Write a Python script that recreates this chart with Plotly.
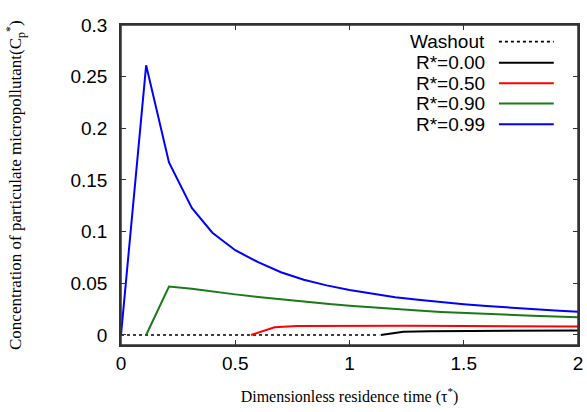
import plotly.graph_objects as go

# ---- data ----
tau_washout = [0.0, 1.13]
c_washout = [0.0, 0.0]

tau_r000 = [1.137, 1.236, 1.35, 1.5, 1.75, 2.0]
c_r000 = [0.0, 0.0032, 0.0037, 0.0040, 0.0042, 0.0043]

tau_r050 = [0.569, 0.672, 0.77, 0.9, 1.0, 1.25, 1.5, 1.75, 2.0]
c_r050 = [0.0, 0.0075, 0.0088, 0.0090, 0.0090, 0.0089, 0.0087, 0.0085, 0.0082]

tau_r090 = [0.11, 0.21, 0.31, 0.4, 0.5, 0.6, 0.7, 0.8, 0.9, 1.0,
            1.1, 1.2, 1.3, 1.4, 1.5, 1.6, 1.7, 1.8, 1.9, 2.0]
c_r090 = [0.0, 0.0468, 0.0448, 0.0420, 0.0393, 0.0367, 0.0344, 0.0322, 0.0302, 0.0284,
          0.0267, 0.0249, 0.0236, 0.0223, 0.0212, 0.0202, 0.0194, 0.0186, 0.0178, 0.0171]

tau_r099 = [0.0, 0.11, 0.21, 0.31, 0.40, 0.5, 0.6, 0.7, 0.8, 0.9, 1.0,
            1.1, 1.2, 1.3, 1.4, 1.5, 1.6, 1.7, 1.8, 1.9, 2.0]
c_r099 = [0.0, 0.261, 0.167, 0.123, 0.099, 0.082, 0.0705, 0.0607, 0.0535, 0.048, 0.0435,
          0.0398, 0.0366, 0.034, 0.0317, 0.0297, 0.028, 0.0264, 0.025, 0.0237, 0.0226]

legend_labels = ["Washout", "R*=0.00", "R*=0.50", "R*=0.90", "R*=0.99"]
x_ticks = [0, 0.5, 1, 1.5, 2]
x_tick_text = ["0", "0.5", "1", "1.5", "2"]
y_ticks = [0, 0.05, 0.1, 0.15, 0.2, 0.25, 0.3]
y_tick_text = ["0", "0.05", "0.1", "0.15", "0.2", "0.25", "0.3"]
y_title = "Concentration of particulate micropollutant(C<sub>p</sub><sup>*</sup>)"
x_title = "Dimensionless residence time (τ<sup>*</sup>)"

# ---- styles ----
colors = ["#000000", "#000000", "#ff0000", "#1a7a1a", "#0000ff"]
dashes = ["dot", "solid", "solid", "solid", "solid"]
series = [(tau_washout, c_washout), (tau_r000, c_r000), (tau_r050, c_r050),
          (tau_r090, c_r090), (tau_r099, c_r099)]

fig = go.Figure()
for (x, y), name, col, dash in zip(series, legend_labels, colors, dashes):
    fig.add_trace(go.Scatter(x=x, y=y, mode="lines", name=name,
                             line=dict(color=col, width=2 if dash == "solid" else 1.6, dash=dash),
                             showlegend=False))

# manual legend (text right, sample line on the right as in reference)
row_y = [0.948, 0.882, 0.818, 0.755, 0.690]
for name, col, dash, yy in zip(legend_labels, colors, dashes, row_y):
    fig.add_annotation(x=0.801, y=yy, xref="paper", yref="paper", text=name,
                       showarrow=False, xanchor="right", yanchor="middle",
                       font=dict(family="Liberation Sans, Arial", size=19, color="black"))
    fig.add_shape(type="line", xref="paper", yref="paper", x0=0.827, x1=0.947, y0=yy, y1=yy,
                  line=dict(color=col, width=2 if dash == "solid" else 1.6, dash=dash))

# y-axis title as rotated annotation (positioned like the reference)
fig.add_annotation(x=-0.232, y=0.5, xref="paper", yref="paper", text=y_title,
                   textangle=-90, showarrow=False, xanchor="center", yanchor="middle",
                   font=dict(family="Liberation Serif, Times New Roman", size=17, color="black"))

# plot frame
fig.add_shape(type="rect", xref="paper", yref="paper", x0=0, x1=1, y0=0, y1=1,
              line=dict(color="#333333", width=1.5), layer="above")

axis_common = dict(showgrid=False, zeroline=False, showline=True, linecolor="#333333",
                   linewidth=1.5, mirror="ticks", ticks="inside", ticklen=5, tickwidth=1.2,
                   tickcolor="#333333",
                   tickfont=dict(family="Liberation Sans, Arial", size=19, color="black"))

fig.update_xaxes(range=[0, 2], tickvals=x_ticks, ticktext=x_tick_text,
                 title=dict(text=x_title,
                            font=dict(family="Liberation Serif, Times New Roman", size=16, color="black"),
                            standoff=18),
                 **axis_common)
fig.update_yaxes(range=[-0.0097, 0.3], tickvals=y_ticks, ticktext=y_tick_text,
                 ticklabelstandoff=8, **axis_common)

fig.update_layout(width=587, height=412, margin=dict(l=121, r=9, t=25, b=67, autoexpand=False),
                  plot_bgcolor="white", paper_bgcolor="white", showlegend=False)

fig.write_html("out.html", config={"displayModeBar": False},
               post_script="document.body.style.margin='0px';document.body.style.overflow='hidden';")
